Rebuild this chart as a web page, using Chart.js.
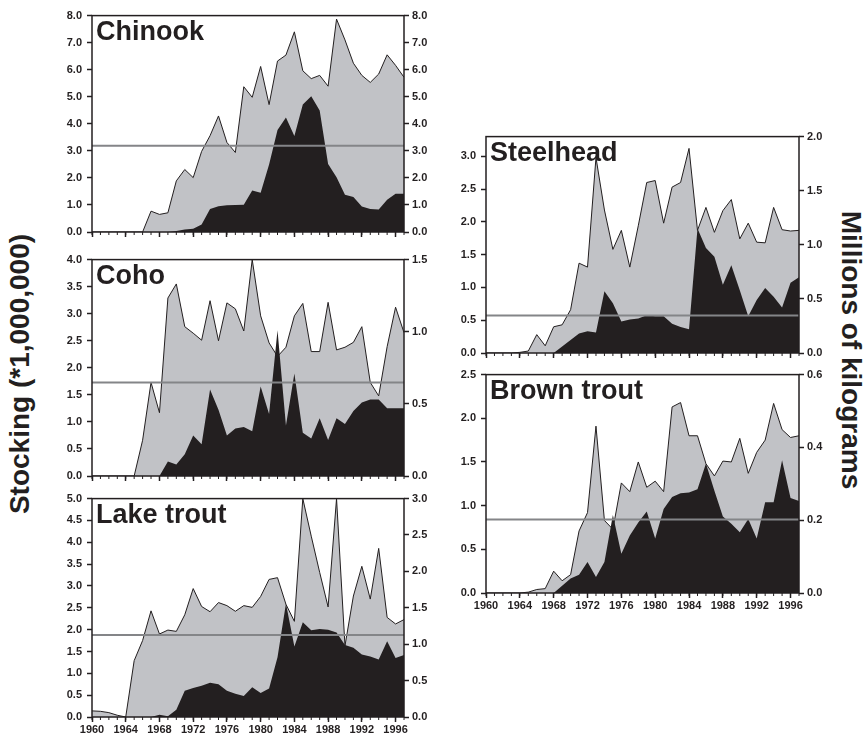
<!DOCTYPE html>
<html lang="en">

<head>
  <meta charset="UTF-8">
  <title>Salmonine stocking</title>
  <script src="https://cdn.jsdelivr.net/npm/chart.js@4.4.1/dist/chart.umd.min.js"></script>
  <style>
    html,
    body {
      margin: 0;
      padding: 0;
      background: #fff;
    }

    body {
      width: 866px;
      height: 740px;
      position: relative;
      overflow: hidden;
      font-family: 'Liberation Sans', Arial, sans-serif;
      color: #231f20;
    }

    canvas {
      position: absolute;
    }

    .title {
      position: absolute;
      font-weight: bold;
      font-size: 27px;
      line-height: 27px;
      white-space: nowrap;
    }

    .axis-title {
      position: absolute;
      font-weight: bold;
      font-size: 28px;
      line-height: 28px;
      white-space: nowrap;
    }
  </style>
</head>

<body>
  <div class="axis-title" style="left:20px; top:374px; transform: translate(-50%, -50%) rotate(-90deg);">Stocking (*1,000,000)</div>
  <div class="axis-title" style="left:851px; top:350px; transform: translate(-50%, -50%) rotate(90deg);">Millions of kilograms</div>

  <script>
    const years = [1960, 1961, 1962, 1963, 1964, 1965, 1966, 1967, 1968, 1969,
      1970, 1971, 1972, 1973, 1974, 1975, 1976, 1977, 1978, 1979,
      1980, 1981, 1982, 1983, 1984, 1985, 1986, 1987, 1988, 1989,
      1990, 1991, 1992, 1993, 1994, 1995, 1996, 1997];
    const yearLabels = [1960, 1964, 1968, 1972, 1976, 1980, 1984, 1988, 1992, 1996];

    // number stocked (millions, left axis)
    const chinookStock = [0, 0, 0, 0, 0, 0, 0, 0.77, 0.65, 0.71,
      1.89, 2.31, 2.01, 2.98, 3.56, 4.29, 3.31, 2.94, 5.37, 4.98,
      6.12, 4.71, 6.32, 6.54, 7.4, 5.96, 5.67, 5.79, 5.39, 7.87,
      7.1, 6.24, 5.79, 5.53, 5.84, 6.55, 6.16, 5.72];
    const cohoStock = [0, 0, 0, 0, 0, 0, 0.66, 1.73, 1.17, 3.29,
      3.55, 2.76, 2.64, 2.51, 3.24, 2.5, 3.2, 3.09, 2.68, 4.0,
      2.96, 2.46, 2.21, 2.38, 2.96, 3.19, 2.3, 2.3, 3.21, 2.33,
      2.38, 2.47, 2.76, 1.73, 1.48, 2.39, 3.12, 2.65];
    const lakeStock = [0.14, 0.13, 0.1, 0.04, 0, 1.29, 1.75, 2.43, 1.9, 1.99,
      1.96, 2.34, 2.94, 2.53, 2.41, 2.62, 2.55, 2.42, 2.55, 2.51,
      2.76, 3.15, 3.19, 2.58, 2.19, 5.0, 4.14, 3.31, 2.52, 5.0,
      1.63, 2.77, 3.45, 2.7, 3.86, 2.28, 2.13, 2.23];
    const steelStock = [0, 0, 0, 0, 0.01, 0.03, 0.28, 0.11, 0.4, 0.43,
      0.66, 1.37, 1.31, 2.98, 2.18, 1.58, 1.87, 1.31, 1.94, 2.6,
      2.63, 1.98, 2.53, 2.6, 3.12, 1.87, 2.22, 1.84, 2.17, 2.34,
      1.74, 1.98, 1.69, 1.68, 2.22, 1.88, 1.86, 1.87];
    const brownStock = [0, 0, 0, 0, 0, 0.01, 0.04, 0.05, 0.25, 0.14,
      0.21, 0.71, 0.92, 1.91, 0.83, 0.73, 1.26, 1.16, 1.5, 1.21,
      1.28, 1.16, 2.13, 2.18, 1.8, 1.8, 1.48, 1.34, 1.51, 1.5,
      1.77, 1.37, 1.61, 1.75, 2.17, 1.87, 1.78, 1.8];

    // biomass stocked (millions of kg, right axis)
    const chinookKg = [0, 0, 0, 0, 0, 0, 0, 0, 0, 0,
      0.04, 0.09, 0.12, 0.28, 0.85, 0.95, 0.99, 1.0, 1.01, 1.53,
      1.45, 2.5, 3.77, 4.23, 3.55, 4.71, 5.02, 4.49, 2.51, 2.02,
      1.38, 1.29, 0.94, 0.85, 0.83, 1.19, 1.41, 1.41];
    const cohoKg = [0, 0, 0, 0, 0, 0, 0, 0, 0, 0.1,
      0.08, 0.15, 0.28, 0.22, 0.6, 0.46, 0.28, 0.33, 0.34, 0.31,
      0.62, 0.43, 1.01, 0.35, 0.71, 0.3, 0.26, 0.4, 0.25, 0.4,
      0.36, 0.45, 0.51, 0.53, 0.53, 0.47, 0.47, 0.47];
    const lakeKg = [0, 0, 0, 0, 0, 0, 0, 0, 0.03, 0.01,
      0.1, 0.36, 0.4, 0.43, 0.47, 0.45, 0.36, 0.32, 0.29, 0.41,
      0.33, 0.39, 0.82, 1.56, 0.97, 1.3, 1.19, 1.21, 1.2, 1.16,
      0.99, 0.95, 0.86, 0.83, 0.79, 1.04, 0.81, 0.85];
    const steelKg = [0, 0, 0, 0, 0, 0, 0, 0, 0, 0.06,
      0.12, 0.18, 0.2, 0.19, 0.57, 0.46, 0.29, 0.31, 0.32, 0.35,
      0.34, 0.34, 0.27, 0.24, 0.22, 1.15, 0.97, 0.89, 0.63, 0.81,
      0.58, 0.34, 0.49, 0.6, 0.52, 0.42, 0.65, 0.7];
    const brownKg = [0, 0, 0, 0, 0, 0, 0, 0, 0, 0.02,
      0.04, 0.05, 0.085, 0.044, 0.085, 0.214, 0.108, 0.158, 0.194, 0.224,
      0.15, 0.231, 0.264, 0.274, 0.276, 0.285, 0.356, 0.281, 0.21, 0.19,
      0.167, 0.203, 0.15, 0.249, 0.249, 0.365, 0.261, 0.253];

    // reference level drawn across each panel (left axis units)
    const chinookLevel = 3.19;
    const cohoLevel = 1.73;
    const lakeLevel = 1.88;
    const steelLevel = 0.57;
    const brownLevel = 0.84;

    const ink = '#231f20';
    const tickFont = { family: "'Liberation Sans', Arial, sans-serif", size: 11, weight: 'bold' };

    const panels = [
      { name: 'Chinook', stock: chinookStock, kg: chinookKg, level: chinookLevel,
        left: 92, top: 14, width: 312, height: 218, yMax: 8, yStep: 1, y2Max: 8, y2Step: 1, showYears: false },
      { name: 'Coho', stock: cohoStock, kg: cohoKg, level: cohoLevel,
        left: 92, top: 258, width: 312, height: 218, yMax: 4, yStep: 0.5, y2Max: 1.5, y2Step: 0.5, showYears: false },
      { name: 'Lake trout', stock: lakeStock, kg: lakeKg, level: lakeLevel,
        left: 92, top: 497, width: 312, height: 220, yMax: 5, yStep: 0.5, y2Max: 3, y2Step: 0.5, showYears: true },
      { name: 'Steelhead', stock: steelStock, kg: steelKg, level: steelLevel,
        left: 486, top: 135, width: 313, height: 218, yMax: 3.3, yStep: 0.5, y2Max: 2, y2Step: 0.5, showYears: false },
      { name: 'Brown trout', stock: brownStock, kg: brownKg, level: brownLevel,
        left: 486, top: 373, width: 313, height: 220, yMax: 2.5, yStep: 0.5, y2Max: 0.6, y2Step: 0.2, showYears: true },
    ];

    // box round the plot area plus the small yearly ticks
    const framePlugin = {
      id: 'frame',
      afterDatasetsDraw(chart) {
        const { ctx, chartArea: a, scales } = chart;
        ctx.save();
        ctx.strokeStyle = ink;
        ctx.lineWidth = 1.5;
        ctx.strokeRect(a.left, a.top, a.right - a.left, a.bottom - a.top);
        ctx.lineWidth = 1;
        ctx.beginPath();
        years.forEach(yr => {
          const x = scales.x.getPixelForValue(yr);
          ctx.moveTo(x, a.bottom);
          ctx.lineTo(x, a.bottom + 3);
        });
        ctx.stroke();
        ctx.restore();
      }
    };

    function toPoints(values) {
      return values.map((v, i) => ({ x: years[i], y: v }));
    }

    function makePanel(p) {
      const padL = 50, padR = 50, padT = 10, padB = 30;
      const canvas = document.createElement('canvas');
      canvas.width = p.width + padL + padR;
      canvas.height = p.height + padT + padB;
      canvas.style.left = (p.left - padL) + 'px';
      canvas.style.top = (p.top - padT) + 'px';
      document.body.appendChild(canvas);

      const title = document.createElement('div');
      title.className = 'title';
      title.textContent = p.name;
      title.style.left = (p.left + 4) + 'px';
      title.style.top = (p.top + 4) + 'px';
      document.body.appendChild(title);

      const grid = { drawOnChartArea: false, drawTicks: true, tickLength: 5, tickWidth: 1.5, tickColor: ink };

      new Chart(canvas, {
        type: 'line',
        data: {
          datasets: [
            {
              data: [{ x: years[0], y: p.level }, { x: years[years.length - 1], y: p.level }],
              yAxisID: 'y', borderColor: '#848588', borderWidth: 2, fill: false, order: 0
            },
            {
              data: toPoints(p.kg), yAxisID: 'y2',
              borderColor: 'rgba(0,0,0,0)', borderWidth: 1, backgroundColor: ink, fill: 'origin', order: 1
            },
            {
              data: toPoints(p.stock), yAxisID: 'y',
              borderColor: ink, borderWidth: 1, backgroundColor: '#c1c2c6', fill: 'origin', order: 2
            }
          ]
        },
        options: {
          responsive: false,
          animation: false,
          devicePixelRatio: 1,
          layout: { padding: { top: padT, left: 0, right: 0, bottom: 0 } },
          elements: { point: { radius: 0 }, line: { tension: 0 } },
          plugins: { legend: { display: false }, tooltip: { enabled: false } },
          scales: {
            x: {
              type: 'linear', min: years[0], max: years[years.length - 1],
              afterFit: s => { s.height = padB; },
              border: { display: false },
              grid: grid,
              ticks: {
                stepSize: 4, includeBounds: false, autoSkip: false, maxRotation: 0, padding: 1,
                color: ink, font: tickFont,
                callback: v => (p.showYears && yearLabels.includes(v)) ? String(v) : ''
              }
            },
            y: {
              position: 'left', min: 0, max: p.yMax,
              afterFit: s => { s.width = padL; },
              border: { display: false },
              grid: grid,
              ticks: {
                stepSize: p.yStep, includeBounds: false, padding: 5, color: ink, font: tickFont,
                callback: v => v.toFixed(1)
              }
            },
            y2: {
              position: 'right', min: 0, max: p.y2Max,
              afterFit: s => { s.width = padR; },
              border: { display: false },
              grid: grid,
              ticks: {
                stepSize: p.y2Step, padding: 3, color: ink, font: tickFont,
                callback: v => v.toFixed(1)
              }
            }
          }
        },
        plugins: [framePlugin]
      });
    }

    panels.forEach(makePanel);
  </script>
</body>

</html>
